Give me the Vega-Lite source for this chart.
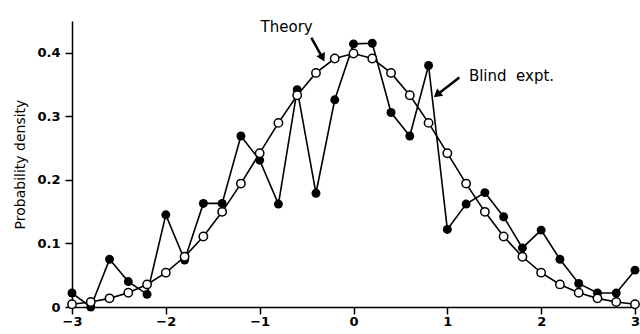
{
  "$schema": "https://vega.github.io/schema/vega-lite/v6.json",
  "autosize": "none",
  "width": 563,
  "height": 286,
  "padding": {"left": 72, "top": 21, "right": 5, "bottom": 27},
  "background": "white",
  "config": {
    "view": {"stroke": null},
    "font": "DejaVu Sans",
    "axis": {"grid": false, "domainColor": "black", "tickColor": "black", "labelColor": "black", "titleColor": "black", "domainWidth": 1.5, "tickWidth": 1.5, "labelFont": "DejaVu Sans", "titleFont": "DejaVu Sans"}
  },
  "datasets": {
    "curves": [
      {"x": -3.0, "series": "Theory", "y": 0.0044}, {"x": -2.8, "series": "Theory", "y": 0.0079}, {"x": -2.6, "series": "Theory", "y": 0.0136}, {"x": -2.4, "series": "Theory", "y": 0.0224}, {"x": -2.2, "series": "Theory", "y": 0.0355}, {"x": -2.0, "series": "Theory", "y": 0.054}, {"x": -1.8, "series": "Theory", "y": 0.079}, {"x": -1.6, "series": "Theory", "y": 0.1109}, {"x": -1.4, "series": "Theory", "y": 0.1497}, {"x": -1.2, "series": "Theory", "y": 0.1942}, {"x": -1.0, "series": "Theory", "y": 0.242}, {"x": -0.8, "series": "Theory", "y": 0.2897}, {"x": -0.6, "series": "Theory", "y": 0.3332}, {"x": -0.4, "series": "Theory", "y": 0.3683}, {"x": -0.2, "series": "Theory", "y": 0.391}, {"x": 0.0, "series": "Theory", "y": 0.3989}, {"x": 0.2, "series": "Theory", "y": 0.391}, {"x": 0.4, "series": "Theory", "y": 0.3683}, {"x": 0.6, "series": "Theory", "y": 0.3332}, {"x": 0.8, "series": "Theory", "y": 0.2897}, {"x": 1.0, "series": "Theory", "y": 0.242}, {"x": 1.2, "series": "Theory", "y": 0.1942}, {"x": 1.4, "series": "Theory", "y": 0.1497}, {"x": 1.6, "series": "Theory", "y": 0.1109}, {"x": 1.8, "series": "Theory", "y": 0.079}, {"x": 2.0, "series": "Theory", "y": 0.054}, {"x": 2.2, "series": "Theory", "y": 0.0355}, {"x": 2.4, "series": "Theory", "y": 0.0224}, {"x": 2.6, "series": "Theory", "y": 0.0136}, {"x": 2.8, "series": "Theory", "y": 0.0079}, {"x": 3.0, "series": "Theory", "y": 0.0044},
      {"x": -3.0, "series": "Blind", "y": 0.022}, {"x": -2.8, "series": "Blind", "y": 0.0}, {"x": -2.6, "series": "Blind", "y": 0.075}, {"x": -2.4, "series": "Blind", "y": 0.04}, {"x": -2.2, "series": "Blind", "y": 0.02}, {"x": -2.0, "series": "Blind", "y": 0.145}, {"x": -1.8, "series": "Blind", "y": 0.074}, {"x": -1.6, "series": "Blind", "y": 0.163}, {"x": -1.4, "series": "Blind", "y": 0.163}, {"x": -1.2, "series": "Blind", "y": 0.269}, {"x": -1.0, "series": "Blind", "y": 0.231}, {"x": -0.8, "series": "Blind", "y": 0.162}, {"x": -0.6, "series": "Blind", "y": 0.342}, {"x": -0.4, "series": "Blind", "y": 0.179}, {"x": -0.2, "series": "Blind", "y": 0.326}, {"x": 0.0, "series": "Blind", "y": 0.414}, {"x": 0.2, "series": "Blind", "y": 0.415}, {"x": 0.4, "series": "Blind", "y": 0.306}, {"x": 0.6, "series": "Blind", "y": 0.269}, {"x": 0.8, "series": "Blind", "y": 0.38}, {"x": 1.0, "series": "Blind", "y": 0.122}, {"x": 1.2, "series": "Blind", "y": 0.162}, {"x": 1.4, "series": "Blind", "y": 0.18}, {"x": 1.6, "series": "Blind", "y": 0.142}, {"x": 1.8, "series": "Blind", "y": 0.093}, {"x": 2.0, "series": "Blind", "y": 0.121}, {"x": 2.2, "series": "Blind", "y": 0.075}, {"x": 2.4, "series": "Blind", "y": 0.037}, {"x": 2.6, "series": "Blind", "y": 0.022}, {"x": 2.8, "series": "Blind", "y": 0.022}, {"x": 3.0, "series": "Blind", "y": 0.058}
    ],
    "arrows": [
      {"label": "Theory", "x": -0.45, "y": 0.424, "x2": -0.33, "y2": 0.392, "angle": 333},
      {"label": "Blind", "x": 1.128, "y": 0.361, "x2": 0.89, "y2": 0.334, "angle": 51}
    ],
    "notes": [
      {"text": "Theory", "x": -0.99, "y": 0.441},
      {"text": "Blind\u00a0\u00a0expt.", "x": 1.23, "y": 0.364}
    ]
  },
  "layer": [
    {
      "data": {"name": "curves"},
      "transform": [{"filter": "datum.series == 'Blind'"}],
      "mark": {"type": "line", "color": "black", "strokeWidth": 1.6},
      "encoding": {
        "x": {"field": "x", "type": "quantitative", "scale": {"domain": [-3, 3], "nice": false},
          "axis": {"values": [-3, -2, -1, 0, 1, 2, 3], "format": "d", "title": null, "labelFontSize": 13, "labelFontWeight": "bold", "tickSize": 7, "labelPadding": 1, "labelFlush": false}},
        "y": {"field": "y", "type": "quantitative", "scale": {"domain": [0, 0.45], "nice": false},
          "axis": {"values": [0, 0.05, 0.1, 0.15, 0.2, 0.25, 0.3, 0.35, 0.4, 0.45], "labelExpr": "datum.value == 0 ? '0' : (round(datum.value * 100) % 10 == 0 ? format(datum.value, '.1f') : '')", "title": "Probability density", "titleFontSize": 14, "titleFontWeight": "normal", "titlePadding": 9, "labelFontSize": 13, "labelFontWeight": "bold", "tickSize": 7, "labelPadding": 5}}
      }
    },
    {
      "data": {"name": "curves"},
      "transform": [{"filter": "datum.series == 'Theory'"}],
      "mark": {"type": "line", "color": "black", "strokeWidth": 1.6},
      "encoding": {
        "x": {"field": "x", "type": "quantitative"},
        "y": {"field": "y", "type": "quantitative"}
      }
    },
    {
      "data": {"name": "curves"},
      "transform": [{"filter": "datum.series == 'Blind'"}],
      "mark": {"type": "point", "shape": "circle", "filled": true, "color": "black", "size": 80, "opacity": 1},
      "encoding": {
        "x": {"field": "x", "type": "quantitative"},
        "y": {"field": "y", "type": "quantitative"}
      }
    },
    {
      "data": {"name": "curves"},
      "transform": [{"filter": "datum.series == 'Theory'"}],
      "mark": {"type": "point", "shape": "circle", "filled": true, "fill": "white", "stroke": "black", "strokeWidth": 1.5, "size": 70, "opacity": 1},
      "encoding": {
        "x": {"field": "x", "type": "quantitative"},
        "y": {"field": "y", "type": "quantitative"}
      }
    },
    {
      "data": {"name": "arrows"},
      "mark": {"type": "rule", "color": "black", "strokeWidth": 2.5},
      "encoding": {
        "x": {"field": "x", "type": "quantitative"},
        "y": {"field": "y", "type": "quantitative"},
        "x2": {"field": "x2"},
        "y2": {"field": "y2"}
      }
    },
    {
      "data": {"name": "arrows"},
      "mark": {"type": "point", "shape": "triangle-down", "filled": true, "color": "black", "size": 90, "opacity": 1},
      "encoding": {
        "x": {"field": "x2", "type": "quantitative"},
        "y": {"field": "y2", "type": "quantitative"},
        "angle": {"field": "angle", "type": "quantitative", "scale": null}
      }
    },
    {
      "data": {"name": "notes"},
      "mark": {"type": "text", "align": "left", "baseline": "middle", "fontSize": 15, "color": "black", "font": "DejaVu Sans"},
      "encoding": {
        "x": {"field": "x", "type": "quantitative"},
        "y": {"field": "y", "type": "quantitative"},
        "text": {"field": "text"}
      }
    }
  ]
}
